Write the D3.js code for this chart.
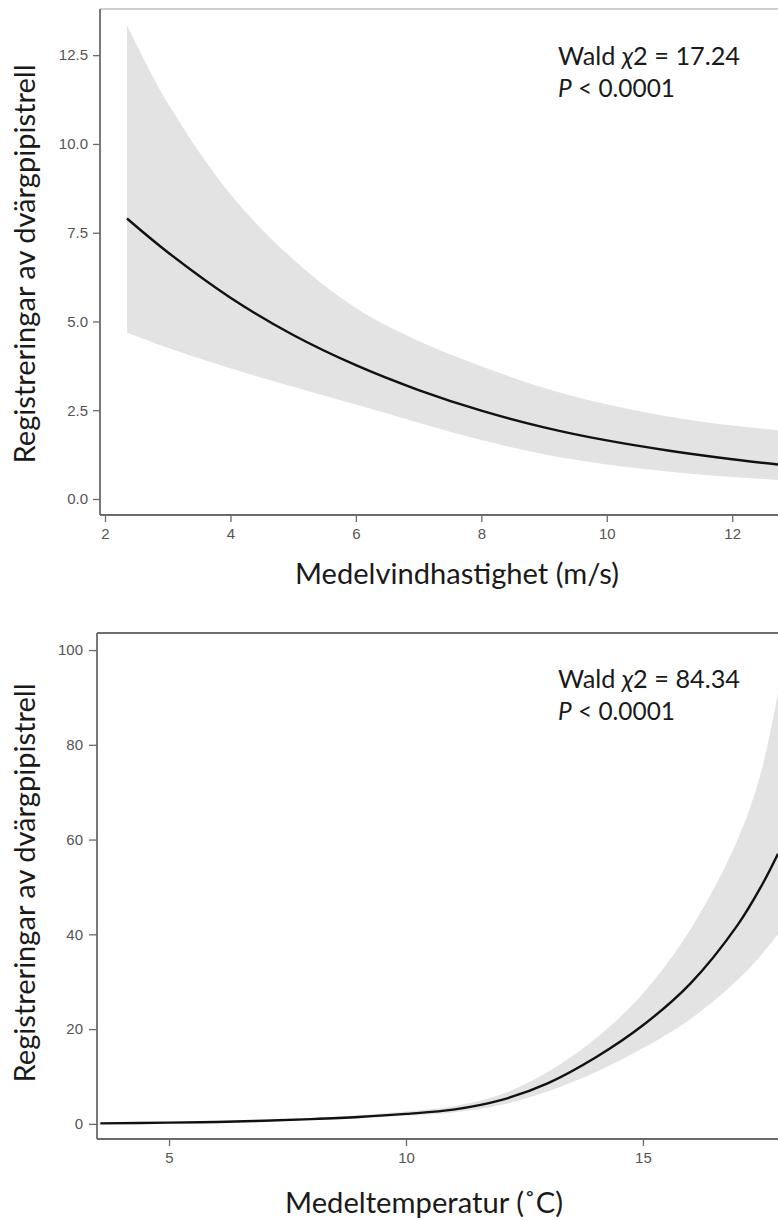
<!DOCTYPE html>
<html>
<head>
<meta charset="utf-8">
<script src="https://cdn.jsdelivr.net/npm/d3@7"></script>
<style>
  html, body { margin: 0; padding: 0; background: #fff; }
  svg { display: block; }
  .tick text { font-family: "Liberation Sans", Arial, sans-serif; font-size: 15px; fill: #555; }
  .title { font-family: Lato, "Open Sans", sans-serif; fill: #1a1a1a; }
</style>
</head>
<body>
<svg id="chart" width="778" height="1220"></svg>
<script>
// Wind speed model: fitted registrations with 95% confidence band
const windSpeed = [2.35, 3, 4, 5, 6, 7, 8, 9, 10, 11, 12, 12.73];
const windFit   = [7.9, 6.95, 5.67, 4.62, 3.77, 3.07, 2.49, 2.02, 1.65, 1.36, 1.12, 0.97];
const windUpper = [13.35, 11.15, 8.58, 6.75, 5.38, 4.45, 3.74, 3.13, 2.67, 2.32, 2.07, 1.94];
const windLower = [4.69, 4.26, 3.68, 3.16, 2.66, 2.15, 1.66, 1.26, 0.97, 0.77, 0.62, 0.54];
const windTicksX = [2, 4, 6, 8, 10, 12];
const windTicksY = [0, 2.5, 5, 7.5, 10, 12.5];

// Temperature model: fitted registrations with 95% confidence band
const tempC     = [3.55, 5, 6, 7, 8, 9, 10, 11, 12, 13, 14, 15, 16, 17, 17.5, 17.85];
const tempFit   = [0.1, 0.25, 0.4, 0.65, 1.0, 1.45, 2.1, 3.0, 5.0, 8.6, 14.0, 20.8, 29.6, 42.0, 50.2, 57.0];
const tempUpper = [0.15, 0.3, 0.5, 0.8, 1.2, 1.8, 2.6, 3.7, 6.2, 11.0, 18.0, 27.5, 41.0, 60.0, 74.5, 91.0];
const tempLower = [0.05, 0.2, 0.3, 0.5, 0.8, 1.15, 1.7, 2.4, 4.0, 6.9, 10.9, 16.0, 22.1, 30.4, 35.7, 40.0];
const tempTicksX = [5, 10, 15];
const tempTicksY = [0, 20, 40, 60, 80, 100];

const yTitle = "Registreringar av dvärgpipistrell";

const svg = d3.select("#chart");

function drawPanel(p) {
  const x = d3.scaleLinear().domain(p.xDomain).range([p.left, p.right]);
  const y = d3.scaleLinear().domain(p.yDomain).range([p.bottom, p.top]);
  const g = svg.append("g");

  const rows = p.xs.map((v, i) => ({ x: v, fit: p.fit[i], lo: p.lower[i], hi: p.upper[i] }));
  const curve = d3.curveCatmullRom.alpha(0.5);

  // confidence band
  g.append("path")
    .datum(rows)
    .attr("fill", "#e3e3e3")
    .attr("d", d3.area()
      .curve(curve)
      .x(d => x(d.x))
      .y0(d => y(d.lo))
      .y1(d => y(d.hi)));

  // fitted curve
  g.append("path")
    .datum(rows)
    .attr("fill", "none")
    .attr("stroke", "#111")
    .attr("stroke-width", 2.4)
    .attr("d", d3.line()
      .curve(curve)
      .x(d => x(d.x))
      .y(d => y(d.fit)));

  // top frame line
  g.append("line")
    .attr("x1", p.left).attr("x2", p.right)
    .attr("y1", p.top).attr("y2", p.top)
    .attr("stroke", p.topColor).attr("stroke-width", 2);

  // axes
  const xAxis = g.append("g")
    .attr("transform", `translate(0,${p.bottom})`)
    .call(d3.axisBottom(x).tickValues(p.ticksX).tickFormat(d3.format("d")).tickSize(7).tickPadding(6));
  const yAxis = g.append("g")
    .attr("transform", `translate(${p.left},0)`)
    .call(d3.axisLeft(y).tickValues(p.ticksY).tickFormat(p.yFormat).tickSize(p.yTick).tickPadding(p.yPad));
  [xAxis, yAxis].forEach(a => {
    a.select(".domain").attr("stroke", "#6a6a6a").attr("stroke-width", 1.8);
    a.selectAll(".tick line").attr("stroke", "#6a6a6a").attr("stroke-width", 1.3);
  });
  xAxis.select(".domain").attr("d", `M${p.left},0H${p.right}`);
  yAxis.select(".domain").attr("d", `M0,${p.bottom}V${p.top}`);

  // axis titles
  g.append("text")
    .attr("class", "title")
    .attr("x", p.xTitleX).attr("y", p.xTitleY)
    .attr("text-anchor", "middle")
    .attr("font-size", 28)
    .attr("textLength", p.xTitleLen).attr("lengthAdjust", "spacingAndGlyphs")
    .text(p.xTitle);

  g.append("text")
    .attr("class", "title")
    .attr("transform", `translate(35,${p.yTitleY}) rotate(-90)`)
    .attr("text-anchor", "middle")
    .attr("font-size", 28)
    .attr("textLength", 399).attr("lengthAdjust", "spacingAndGlyphs")
    .text(yTitle);

  // test statistics
  const stat = g.append("g").attr("class", "title").attr("font-size", 25);
  stat.append("text")
    .attr("x", 558).attr("y", p.statY)
    .attr("textLength", 182).attr("lengthAdjust", "spacingAndGlyphs")
    .html(`Wald <tspan font-style="italic">χ</tspan>2 = ${p.wald}`);
  stat.append("text")
    .attr("x", 558).attr("y", p.statY + 32)
    .attr("textLength", 117).attr("lengthAdjust", "spacingAndGlyphs")
    .html(`<tspan font-style="italic">P</tspan> &lt; 0.0001`);
}

drawPanel({
  xs: windSpeed, fit: windFit, upper: windUpper, lower: windLower,
  xDomain: [1.92, 12.73], yDomain: [-0.45, 13.8],
  left: 100, right: 778, top: 9, bottom: 515,
  ticksX: windTicksX, ticksY: windTicksY,
  yFormat: d3.format(".1f"), yTick: 7, yPad: 5,
  topColor: "#cfcfcf",
  xTitle: "Medelvindhastighet (m/s)", xTitleX: 457, xTitleY: 584, xTitleLen: 324,
  yTitleY: 264, statY: 65, wald: "17.24"
});

drawPanel({
  xs: tempC, fit: tempFit, upper: tempUpper, lower: tempLower,
  xDomain: [3.48, 17.85], yDomain: [-3.2, 103.6],
  left: 97, right: 778, top: 633, bottom: 1139,
  ticksX: tempTicksX, ticksY: tempTicksY,
  yFormat: d3.format("d"), yTick: 8, yPad: 6,
  topColor: "#6f6f6f",
  xTitle: "Medeltemperatur (˚C)", xTitleX: 424, xTitleY: 1213, xTitleLen: 278,
  yTitleY: 883, statY: 688, wald: "84.34"
});
</script>
</body>
</html>
